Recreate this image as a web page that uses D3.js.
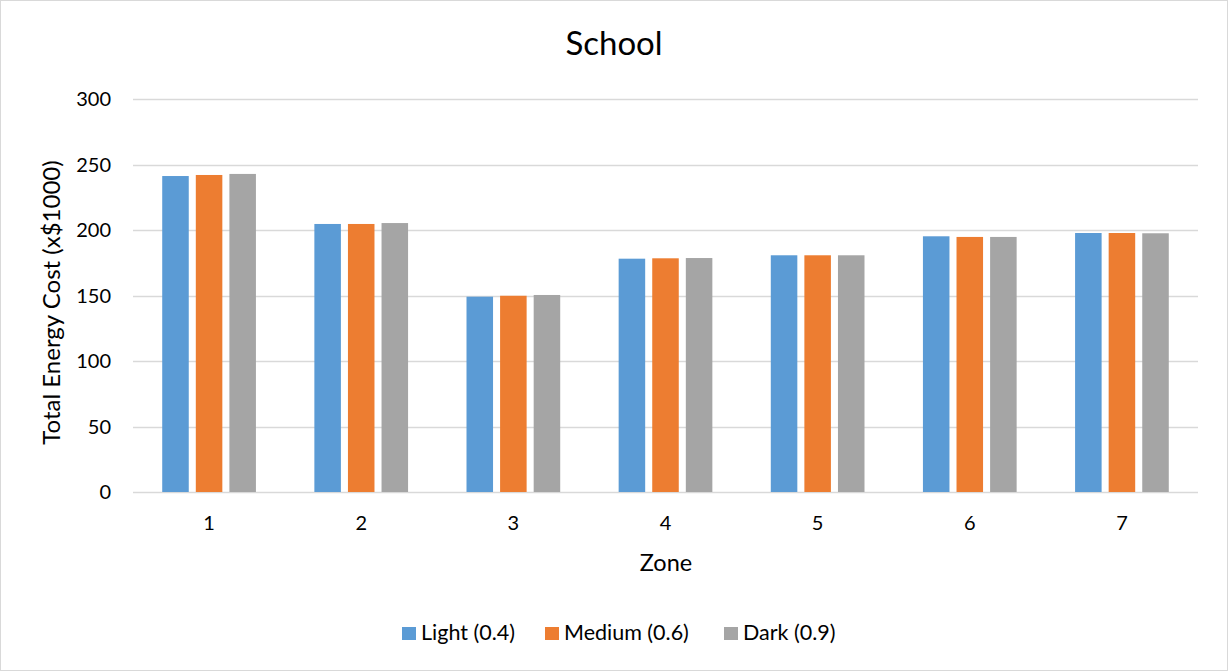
<!DOCTYPE html>
<html>
<head>
<meta charset="utf-8">
<script src="https://cdn.jsdelivr.net/npm/d3@7"></script>
<style>
  body { margin: 0; background: #fff; }
  svg text { font-family: Lato, "Open Sans", sans-serif; fill: #000; }
</style>
</head>
<body>
<svg id="chart" width="1228" height="671"></svg>
<script>
const zones = ['1', '2', '3', '4', '5', '6', '7'];
const seriesNames = ['Light (0.4)', 'Medium (0.6)', 'Dark (0.9)'];
const light = [241.2, 204.6, 149.1, 178.1, 180.7, 195.2, 197.7];
const medium = [242.0, 204.6, 149.8, 178.4, 180.7, 194.7, 197.7];
const dark = [242.8, 205.3, 150.4, 178.6, 180.7, 194.7, 197.5];
const yTicks = [0, 50, 100, 150, 200, 250, 300];
const colors = ['#5B9BD5', '#ED7D31', '#A5A5A5'];

const values = [light, medium, dark];
const width = 1228;
const height = 671;
const margin = { top: 99, right: 30, bottom: 179, left: 133 };

const svg = d3.select('#chart');

svg.append('rect')
  .attr('x', 0.5).attr('y', 0.5)
  .attr('width', width - 1).attr('height', height - 1)
  .attr('fill', '#fff')
  .attr('stroke', '#d9d9d9');

const x = d3.scaleBand()
  .domain(zones)
  .range([margin.left, width - margin.right]);

const x1 = d3.scaleBand()
  .domain(d3.range(seriesNames.length))
  .range([0, x.bandwidth()])
  .paddingInner(0.21)
  .paddingOuter(0.87);

const y = d3.scaleLinear()
  .domain([0, 300])
  .range([height - margin.bottom, margin.top]);

// gridlines
svg.append('g')
  .selectAll('line')
  .data(yTicks)
  .join('line')
  .attr('x1', margin.left)
  .attr('x2', width - margin.right)
  .attr('y1', d => Math.round(y(d)) + 0.5)
  .attr('y2', d => Math.round(y(d)) + 0.5)
  .attr('stroke', '#d9d9d9')
  .attr('stroke-width', 1.3);

// bars
const groups = svg.append('g')
  .selectAll('g')
  .data(zones)
  .join('g')
  .attr('transform', d => `translate(${x(d)},0)`);

groups.selectAll('rect')
  .data((d, i) => values.map((s, k) => ({ k, v: s[i] })))
  .join('rect')
  .attr('x', d => x1(d.k))
  .attr('width', x1.bandwidth())
  .attr('y', d => y(d.v))
  .attr('height', d => y(0) - y(d.v))
  .attr('fill', d => colors[d.k]);

// y axis
const yAxis = svg.append('g')
  .attr('transform', `translate(${margin.left},0)`)
  .call(d3.axisLeft(y).tickValues(yTicks).tickSize(0).tickPadding(22));
yAxis.select('.domain').remove();
yAxis.selectAll('text')
  .style('font-size', '20px')
  .attr('dy', '0.34em');

// x axis
const xAxis = svg.append('g')
  .attr('transform', `translate(0,${y(0)})`)
  .call(d3.axisBottom(x).tickSize(0).tickPadding(24));
xAxis.select('.domain').remove();
xAxis.selectAll('text')
  .style('font-size', '20px');

// titles
svg.append('text')
  .attr('x', 614)
  .attr('y', 55)
  .attr('text-anchor', 'middle')
  .style('font-size', '33px')
  .text('School');

svg.append('text')
  .attr('x', 666)
  .attr('y', 571)
  .attr('text-anchor', 'middle')
  .style('font-size', '23.5px')
  .text('Zone');

svg.append('text')
  .attr('transform', `translate(60,${(y(0) + y(300)) / 2 + 7}) rotate(-90)`)
  .attr('text-anchor', 'middle')
  .style('font-size', '24px')
  .text('Total Energy Cost (x$1000)');

// legend
const legendX = [402, 545, 724];
const legend = svg.append('g')
  .selectAll('g')
  .data(seriesNames)
  .join('g')
  .attr('transform', (d, i) => `translate(${legendX[i]},627)`);

legend.append('rect')
  .attr('width', 14)
  .attr('height', 13)
  .attr('fill', (d, i) => colors[i]);

legend.append('text')
  .attr('x', 19)
  .attr('y', 13)
  .style('font-size', '21.5px')
  .text(d => d);
</script>
</body>
</html>
